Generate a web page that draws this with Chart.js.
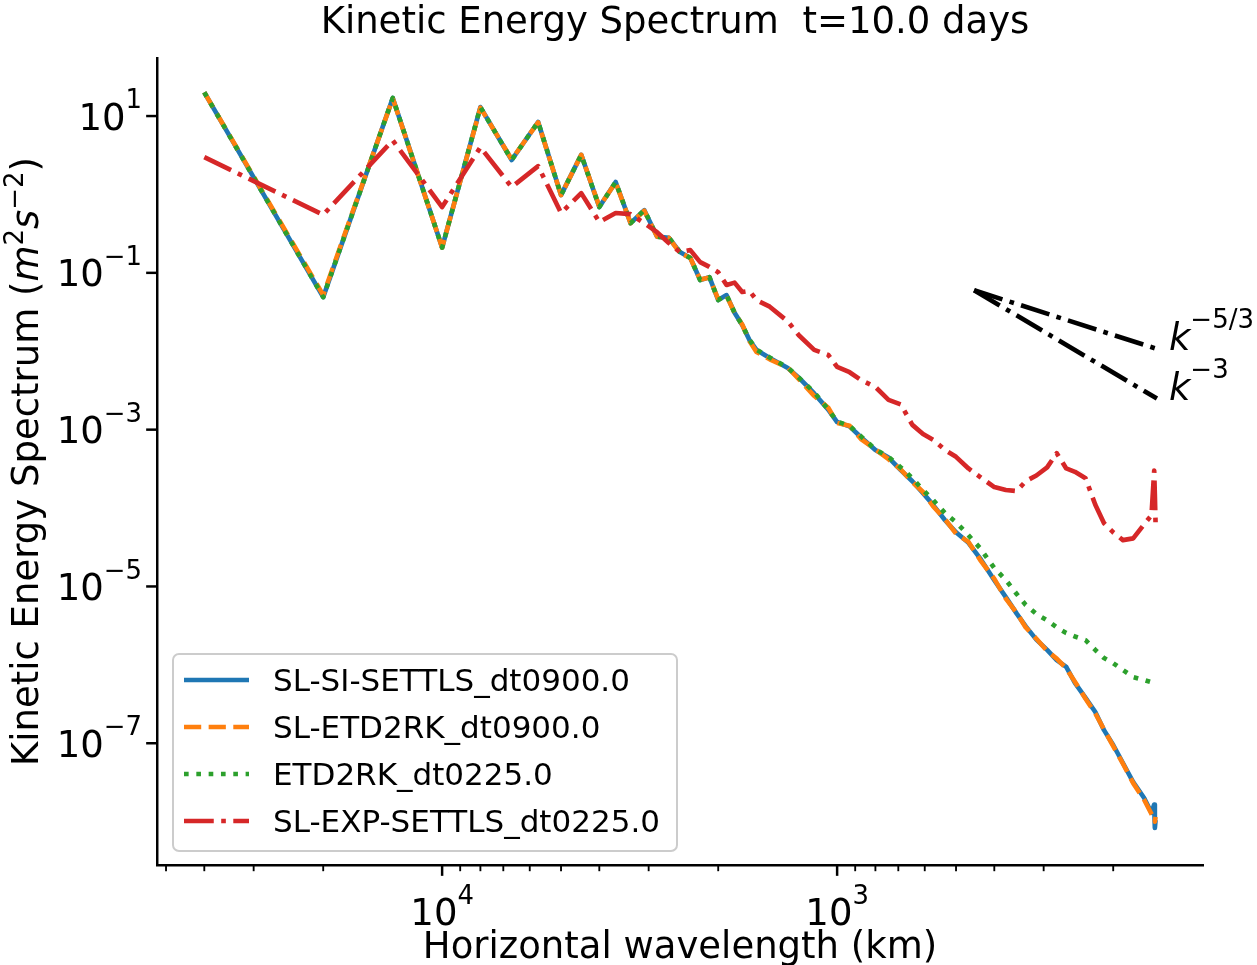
<!DOCTYPE html>
<html>
<head>
<meta charset="utf-8">
<title>Kinetic Energy Spectrum</title>
<script src="https://cdn.jsdelivr.net/npm/chart.js@4.4.1/dist/chart.umd.min.js"></script>
<style>
  html, body { margin: 0; padding: 0; background: #fff; }
  #wrap { width: 1257px; height: 965px; }
</style>
</head>
<body>
<div id="wrap"><canvas id="spectrum" width="1257" height="965"></canvas></div>
<script>
// horizontal wavelength (km)
const wavelength = [40000, 20000, 13333, 10000, 8000, 6667, 5714, 5000, 4444, 4000,
  3636, 3333, 3077, 2857, 2667, 2500, 2353, 2222, 2105, 2000,
  1905, 1818, 1739, 1667, 1600,
  1481, 1333, 1250, 1143, 1053, 1000, 930, 870, 800, 741,
  690, 645, 606, 571, 533, 500, 465, 435, 400,
  374, 351, 333, 313, 294, 278, 263, 250, 235, 222, 211, 200,
  189, 178, 167, 160, 157.5, 156.9, 156.25];

// kinetic energy spectrum of each run (m^2 s^-2)
const slSiSettls = [20, 0.049, 17, 0.21, 13, 2.75, 8.4, 0.98, 3.2, 0.69,
  1.44, 0.43, 0.63, 0.29, 0.28, 0.184, 0.155, 0.081, 0.088, 0.045,
  0.052, 0.031, 0.0216, 0.0139, 0.0104,
  0.0082, 0.0061, 0.0046, 0.0029, 0.0018, 0.00125, 0.0011, 8.0e-4, 5.5e-4, 4.4e-4,
  3.05e-4, 2.2e-4, 1.55e-4, 1.09e-4, 7.0e-5, 4.9e-5, 3.6e-5, 2.3e-5, 1.2e-5,
  7.3e-6, 4.5e-6, 3.1e-6, 2.1e-6, 1.55e-6, 1.15e-6, 9.4e-7, 5.9e-7, 3.8e-7, 2.5e-7, 1.47e-7, 9.5e-8,
  5.6e-8, 3.2e-8, 2.0e-8, 1.3e-8, 1.65e-8, 8.3e-9, 1.05e-8];

const slEtd2rk = [20, 0.052, 16.8, 0.21, 12.8, 2.8, 8.3, 0.98, 3.2, 0.7,
  1.42, 0.43, 0.62, 0.29, 0.28, 0.18, 0.155, 0.082, 0.087, 0.046,
  0.051, 0.031, 0.022, 0.0135, 0.0098,
  0.0079, 0.0062, 0.0044, 0.0027, 0.0019, 0.00122, 0.00112, 7.6e-4, 5.6e-4, 4.2e-4,
  3.1e-4, 2.15e-4, 1.6e-4, 1.05e-4, 7.2e-5, 4.7e-5, 3.7e-5, 2.2e-5, 1.25e-5,
  7.0e-6, 4.6e-6, 3.0e-6, 2.15e-6, 1.5e-6, 1.2e-6, 9.0e-7, 6.1e-7, 3.7e-7, 2.4e-7, 1.5e-7, 9.2e-8,
  5.5e-8, 3.1e-8, 1.9e-8, 1.25e-8, 1.1e-8, 1.0e-8, 1.15e-8];

const etd2rk = [20, 0.049, 17, 0.21, 13, 2.75, 8.4, 0.98, 3.2, 0.69,
  1.44, 0.43, 0.63, 0.29, 0.28, 0.184, 0.155, 0.081, 0.088, 0.045,
  0.052, 0.031, 0.0216, 0.014, 0.0105,
  0.0083, 0.0062, 0.0046, 0.003, 0.0018, 0.00127, 0.00112, 8.2e-4, 5.6e-4, 4.5e-4,
  3.3e-4, 2.4e-4, 1.7e-4, 1.26e-4, 8.6e-5, 6.6e-5, 4.5e-5, 3.1e-5, 1.72e-5,
  1.21e-5, 8.0e-6, 5.8e-6, 4.45e-6, 3.7e-6, 3.0e-6, 2.55e-6, 2.3e-6, 2.07e-6, 1.55e-6, 1.22e-6, 1.05e-6,
  8.6e-7, 7.0e-7, 6.4e-7, 6.0e-7, 5.9e-7, 6.1e-7, 5.8e-7];

const slExpSettls = [3.0, 0.55, 4.9, 0.69, 4.0, 1.24, 2.3, 0.58, 1.04, 0.445,
  0.58, 0.56, 0.43, 0.33, 0.24, 0.184, 0.195, 0.137, 0.119, 0.102,
  0.07, 0.075, 0.057, 0.059, 0.045,
  0.037, 0.024, 0.016, 0.0104, 0.009, 0.0063, 0.0054, 0.0043, 0.0035, 0.0024,
  0.0021, 0.00115, 8.8e-4, 7.4e-4, 5.5e-4, 4.5e-4, 3.2e-4, 2.5e-4, 1.85e-4,
  1.7e-4, 1.65e-4, 2.2e-4, 2.6e-4, 3.3e-4, 5.0e-4, 3.2e-4, 2.9e-4, 2.4e-4, 1.1e-4, 6.4e-5, 4.9e-5,
  3.9e-5, 4.1e-5, 6.2e-5, 8.1e-5, 3.0e-4, 1.5e-4, 6.4e-5];

// reference slopes k^-5/3 and k^-3
const refWavelength = [450, 155];
const refK53 = [0.06, 0.0107];
const refK3 = [0.06, 0.00249];

const seriesLabels = ['SL-SI-SETTLS_dt0900.0', 'SL-ETD2RK_dt0900.0', 'ETD2RK_dt0225.0', 'SL-EXP-SETTLS_dt0225.0'];

// tick labels
const xTickValues = [10000, 1000];
const xTickExp = ['4', '3'];
const yTickValues = [1e1, 1e-1, 1e-3, 1e-5, 1e-7];
const yTickExp = ['1', '\u22121', '\u22123', '\u22125', '\u22127'];

const FONT = '"DejaVu Sans", sans-serif';
const PT = 3.1;          // pixels per point in the original figure
const LW = 1.5 * PT;     // line width
const TICK_FONT = 37;

function toPoints(xs, ys) {
    return xs.map((x, i) => ({ x: x, y: ys[i] }));
}

function fontStr(size, italic) {
    return (italic ? 'italic ' : '') + size + 'px ' + FONT;
}

// draws text runs with mathtext-like superscripts
function drawMath(ctx, parts, x, y, align) {
    let total = 0;
    parts.forEach(p => {
        ctx.font = fontStr(p.s, p.it);
        p.w = ctx.measureText(p.t).width;
        total += p.w;
    });
    let cx = x;
    if (align === 'center') cx = x - total / 2;
    if (align === 'right') cx = x - total;
    ctx.textAlign = 'left';
    ctx.textBaseline = 'alphabetic';
    parts.forEach(p => {
        ctx.font = fontStr(p.s, p.it);
        ctx.fillText(p.t, cx, y - (p.up || 0));
        cx += p.w;
    });
}

function powerLabel(base, exp, size) {
    return [
        { t: base, s: size },
        { t: exp, s: size * 0.7, up: size * 0.576 }
    ];
}

const datasetStyles = [
    { color: '#1f77b4', dash: [] },
    { color: '#ff7f0e', dash: [5.55 * PT, 2.4 * PT] },
    { color: '#2ca02c', dash: [1.5 * PT, 2.475 * PT] },
    { color: '#d62728', dash: [9.6 * PT, 2.4 * PT, 1.5 * PT, 2.4 * PT] }
];

const decorPlugin = {
    id: 'decor',
    afterDraw(chart) {
        const { ctx, chartArea: a, scales: { x, y } } = chart;
        ctx.save();
        ctx.fillStyle = '#000';
        ctx.strokeStyle = '#000';

        // x ticks: majors and minors
        ctx.lineCap = 'butt';
        [100, 1000, 10000].forEach(dec => {
            for (let m = 1; m <= 9; m++) {
                const v = dec * m;
                if (v < x.min || v > x.max) continue;
                const px = x.getPixelForValue(v);
                const major = m === 1;
                ctx.lineWidth = major ? 0.8 * PT : 0.6 * PT;
                ctx.beginPath();
                ctx.moveTo(px, a.bottom);
                ctx.lineTo(px, a.bottom + (major ? 3.5 * PT : 2 * PT));
                ctx.stroke();
            }
        });
        xTickValues.forEach((v, i) => {
            drawMath(ctx, powerLabel('10', xTickExp[i], TICK_FONT), x.getPixelForValue(v), 925, 'center');
        });

        // y ticks
        ctx.lineWidth = 0.8 * PT;
        yTickValues.forEach((v, i) => {
            const py = y.getPixelForValue(v);
            ctx.beginPath();
            ctx.moveTo(a.left, py);
            ctx.lineTo(a.left - 3.5 * PT, py);
            ctx.stroke();
            drawMath(ctx, powerLabel('10', yTickExp[i], TICK_FONT), a.left - 15, py + 13.5, 'right');
        });

        // title and axis labels
        const midX = (a.left + a.right) / 2;
        drawMath(ctx, [{ t: 'Kinetic Energy Spectrum  t=10.0 days', s: 37 }], midX - 5, 33, 'center');
        drawMath(ctx, [{ t: 'Horizontal wavelength (km)', s: 37 }], midX, 958, 'center');

        ctx.save();
        ctx.translate(38, (a.top + a.bottom) / 2);
        ctx.rotate(-Math.PI / 2);
        drawMath(ctx, [
            { t: 'Kinetic Energy Spectrum (', s: 37 },
            { t: 'm', s: 37, it: true },
            { t: '2', s: 26, up: 14.6 },
            { t: 's', s: 37, it: true },
            { t: '\u22122', s: 26, up: 14.6 },
            { t: ')', s: 37 }
        ], 0, 0, 'center');
        ctx.restore();

        // slope labels at the end of the reference lines
        const ex = x.getPixelForValue(refWavelength[1]) + 12;
        drawMath(ctx, [{ t: 'k', s: 37, it: true }, { t: '\u22125/3', s: 26, up: 22 }], ex, y.getPixelForValue(refK53[1]) + 1, 'left');
        drawMath(ctx, [{ t: 'k', s: 37, it: true }, { t: '\u22123', s: 26, up: 22 }], ex, y.getPixelForValue(refK3[1]) + 1, 'left');

        // legend box
        const lx = a.left + 16, ly = a.bottom - 211, lw = 504, lh = 197, r = 6;
        ctx.beginPath();
        ctx.moveTo(lx + r, ly);
        ctx.arcTo(lx + lw, ly, lx + lw, ly + lh, r);
        ctx.arcTo(lx + lw, ly + lh, lx, ly + lh, r);
        ctx.arcTo(lx, ly + lh, lx, ly, r);
        ctx.arcTo(lx, ly, lx + lw, ly, r);
        ctx.closePath();
        ctx.fillStyle = 'rgba(255,255,255,0.8)';
        ctx.fill();
        ctx.lineWidth = 2;
        ctx.strokeStyle = '#cccccc';
        ctx.stroke();

        seriesLabels.forEach((label, i) => {
            const ry = ly + 26 + i * 47;
            const st = datasetStyles[i];
            ctx.strokeStyle = st.color;
            ctx.lineWidth = LW;
            ctx.setLineDash(st.dash);
            ctx.beginPath();
            ctx.moveTo(lx + 11, ry);
            ctx.lineTo(lx + 76, ry);
            ctx.stroke();
            ctx.setLineDash([]);
            ctx.fillStyle = '#000';
            drawMath(ctx, [{ t: label, s: 31 }], lx + 100, ry + 11, 'left');
        });

        ctx.restore();
    }
};

const seriesData = [slSiSettls, slEtd2rk, etd2rk, slExpSettls];
const datasets = seriesData.map((vals, i) => ({
    label: seriesLabels[i],
    data: toPoints(wavelength, vals),
    borderColor: datasetStyles[i].color,
    borderDash: datasetStyles[i].dash,
    borderWidth: LW,
    order: 3 - i
}));
const refDash = [9.6 * PT, 2.4 * PT, 1.5 * PT, 2.4 * PT];
datasets.push({ label: 'k-5/3', data: toPoints(refWavelength, refK53), borderColor: '#000', borderDash: refDash, borderWidth: LW, order: 0 });
datasets.push({ label: 'k-3', data: toPoints(refWavelength, refK3), borderColor: '#000', borderDash: refDash, borderWidth: LW, order: 0 });

new Chart(document.getElementById('spectrum'), {
    type: 'line',
    data: { datasets: datasets },
    options: {
        responsive: false,
        animation: false,
        devicePixelRatio: 1,
        layout: { padding: { left: 157, top: 58, right: 54, bottom: 100 } },
        elements: {
            point: { radius: 0, hoverRadius: 0 },
            line: { tension: 0, borderCapStyle: 'butt', borderJoinStyle: 'round', fill: false }
        },
        plugins: {
            legend: { display: false },
            tooltip: { enabled: false },
            title: { display: false }
        },
        scales: {
            x: {
                type: 'logarithmic',
                reverse: true,
                min: 118.5,
                max: 52700,
                ticks: { display: false },
                grid: { display: false, drawTicks: false },
                border: { display: true, color: '#000', width: 0.8 * PT },
                afterFit: s => { s.height = 0; }
            },
            y: {
                type: 'logarithmic',
                min: 2.8e-9,
                max: 55,
                ticks: { display: false },
                grid: { display: false, drawTicks: false },
                border: { display: true, color: '#000', width: 0.8 * PT },
                afterFit: s => { s.width = 0; }
            }
        }
    },
    plugins: [decorPlugin]
});
</script>
</body>
</html>
